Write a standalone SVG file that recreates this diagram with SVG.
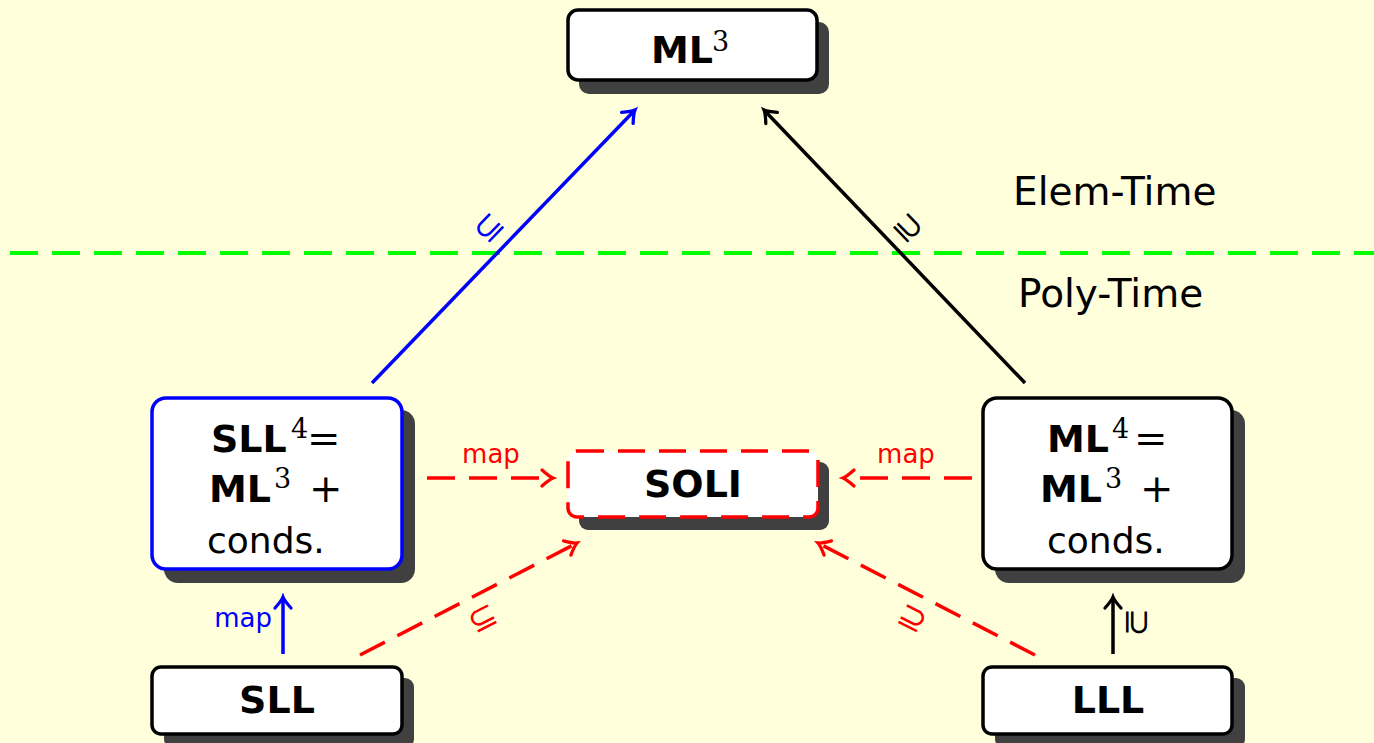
<svg xmlns="http://www.w3.org/2000/svg" width="1374" height="743" viewBox="0 0 1374 743">
<defs>
<style>
.bg{fill:#FFFFDC}
.shadow{fill:#404040}
.box{fill:#fff;stroke-width:3.5}
.bold{font-family:"DejaVu Sans",sans-serif;font-weight:bold;font-size:38px;fill:#000}
.reg{font-family:"DejaVu Sans",sans-serif;font-size:36px;fill:#000}
.sup{font-family:"DejaVu Serif","Liberation Serif",serif;font-weight:normal;font-size:27px}
.op{font-family:"DejaVu Serif","Liberation Serif",serif;font-weight:normal;font-size:40px}
.lbl{font-family:"DejaVu Sans",sans-serif;font-size:26px}
.sym{font-family:"DejaVu Sans",sans-serif;font-size:34px}
.conn{fill:none;stroke-width:3.5}
.dash{stroke-dasharray:28 14}
</style>
<marker id="ab" viewBox="-15 -15 30 30" markerWidth="30" markerHeight="30" markerUnits="userSpaceOnUse" refX="0" refY="0" orient="auto" overflow="visible">
<path d="M -11 -8 C -6 -3.5 -2.5 -1 0 0 C -2.5 1 -6 3.5 -11 8" fill="none" stroke="#0000FF" stroke-width="3.3" stroke-linecap="round"/>
</marker>
<marker id="ak" viewBox="-15 -15 30 30" markerWidth="30" markerHeight="30" markerUnits="userSpaceOnUse" refX="0" refY="0" orient="auto" overflow="visible">
<path d="M -11 -8 C -6 -3.5 -2.5 -1 0 0 C -2.5 1 -6 3.5 -11 8" fill="none" stroke="#000" stroke-width="3.3" stroke-linecap="round"/>
</marker>
<marker id="ar" viewBox="-15 -15 30 30" markerWidth="30" markerHeight="30" markerUnits="userSpaceOnUse" refX="0" refY="0" orient="auto" overflow="visible">
<path d="M -11 -8 C -6 -3.5 -2.5 -1 0 0 C -2.5 1 -6 3.5 -11 8" fill="none" stroke="#FF0000" stroke-width="3.3" stroke-linecap="round"/>
</marker>
</defs>
<rect class="bg" x="0" y="0" width="1374" height="743"/>

<line x1="10" y1="253" x2="1374" y2="253" stroke="#00FF00" stroke-width="4" stroke-dasharray="28 14"/>
<text class="reg" x="1013" y="205" style="font-size:39px">Elem-Time</text>
<text class="reg" x="1018" y="307" style="font-size:39px">Poly-Time</text>

<g id="connectors">
<line class="conn" x1="372" y1="383" x2="635" y2="110" stroke="#0000FF" marker-end="url(#ab)"/>
<text class="sym" fill="#0000FF" text-anchor="middle" dominant-baseline="central" transform="translate(488,227) rotate(-46)">⊆</text>
<line class="conn" x1="1025" y1="383" x2="764" y2="110" stroke="#000" marker-end="url(#ak)"/>
<text class="sym" fill="#000" text-anchor="middle" dominant-baseline="central" transform="translate(909,227) rotate(46)">⊇</text>
<line class="conn" x1="283" y1="654" x2="283" y2="597" stroke="#0000FF" marker-end="url(#ab)"/>
<text class="lbl" fill="#0000FF" x="272" y="627" text-anchor="end">map</text>
<line class="conn" x1="1113" y1="654" x2="1113" y2="597" stroke="#000" marker-end="url(#ak)"/>
<text class="sym" fill="#000" text-anchor="middle" dominant-baseline="central" transform="translate(1138,622) rotate(90)">⊇</text>
<line class="conn dash" x1="427" y1="478" x2="553" y2="478" stroke="#FF0000" marker-end="url(#ar)"/>
<text class="lbl" fill="#FF0000" x="491" y="463" text-anchor="middle">map</text>
<line class="conn dash" x1="972" y1="478" x2="843" y2="478" stroke="#FF0000" marker-end="url(#ar)"/>
<text class="lbl" fill="#FF0000" x="906" y="463" text-anchor="middle">map</text>
<line class="conn dash" x1="360" y1="655" x2="577" y2="543" stroke="#FF0000" marker-end="url(#ar)"/>
<text class="sym" fill="#FF0000" text-anchor="middle" dominant-baseline="central" transform="translate(482,617) rotate(-27)">⊆</text>
<line class="conn dash" x1="1035" y1="655" x2="818" y2="543" stroke="#FF0000" marker-end="url(#ar)"/>
<text class="sym" fill="#FF0000" text-anchor="middle" dominant-baseline="central" transform="translate(913,617) rotate(27)">⊇</text>
</g>

<g id="ML3">
<rect class="shadow" x="579" y="22" width="250" height="72" rx="10"/>
<rect class="box" x="568" y="10" width="249" height="70" rx="10" stroke="#000"/>
<text class="bold" x="651" y="63">ML<tspan class="sup" x="712" y="51">3</tspan></text>
</g>

<g id="SLL4">
<rect class="shadow" x="164" y="410" width="251" height="173" rx="14"/>
<rect class="box" x="152" y="398" width="250" height="171" rx="14" stroke="#0000FF"/>
<text class="bold" x="211" y="452">SLL<tspan class="sup" x="291" y="438">4</tspan><tspan class="op" x="307" y="452">=</tspan></text>
<text class="bold" x="209" y="502">ML<tspan class="sup" x="274" y="488">3</tspan><tspan class="op" x="309" y="502">+</tspan></text>
<text class="reg" x="207" y="553">conds.</text>
</g>

<g id="SOLI">
<rect class="shadow" x="579" y="462" width="250" height="68" rx="9"/>
<rect class="box" x="568" y="451" width="250" height="66" rx="9" stroke="#FF0000" stroke-width="3.5" stroke-dasharray="27 14"/>
<text class="bold" x="693" y="497" text-anchor="middle">SOLI</text>
</g>

<g id="ML4">
<rect class="shadow" x="995" y="410" width="250" height="173" rx="14"/>
<rect class="box" x="983" y="398" width="249" height="171" rx="14" stroke="#000"/>
<text class="bold" x="1047" y="452">ML<tspan class="sup" x="1112" y="438">4</tspan><tspan class="op" x="1134" y="452">=</tspan></text>
<text class="bold" x="1040" y="502">ML<tspan class="sup" x="1105" y="488">3</tspan><tspan class="op" x="1140" y="502">+</tspan></text>
<text class="reg" x="1047" y="553">conds.</text>
</g>

<g id="SLL">
<rect class="shadow" x="164" y="678" width="250" height="70" rx="9"/>
<rect class="box" x="152" y="667" width="250" height="67" rx="9" stroke="#000"/>
<text class="bold" x="277" y="713" text-anchor="middle">SLL</text>
</g>

<g id="LLL">
<rect class="shadow" x="995" y="678" width="250" height="70" rx="9"/>
<rect class="box" x="983" y="667" width="249" height="67" rx="9" stroke="#000"/>
<text class="bold" x="1108" y="713" text-anchor="middle">LLL</text>
</g>
</svg>
